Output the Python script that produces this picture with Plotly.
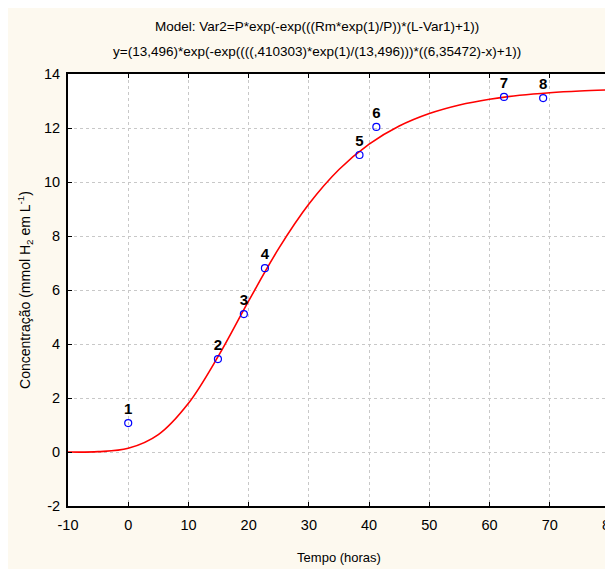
import plotly.graph_objects as go

# ── dados observados ─────────────────────────────────────────
tempo = [0, 14.9, 19.2, 22.7, 38.4, 41.2, 62.4, 68.9]
conc = [1.07, 3.44, 5.11, 6.81, 11.0, 12.04, 13.15, 13.11]
rotulos = ["1", "2", "3", "4", "5", "6", "7", "8"]

# curva ajustada
curva_x = [-10, -5, 0, 5, 10, 15, 20, 25, 30, 35, 40, 45, 50, 55, 60, 65, 70, 75, 80]
curva_y = [0.0, 0.013, 0.136, 0.645, 1.805, 3.567, 5.598, 7.539, 9.181, 10.461,
           11.401, 12.072, 12.536, 12.854, 13.067, 13.211, 13.307, 13.371, 13.413]

x_ticks = [-10, 0, 10, 20, 30, 40, 50, 60, 70, 80]
x_text = ["-10", "0", "10", "20", "30", "40", "50", "60", "70", "80"]
y_ticks = [-2, 0, 2, 4, 6, 8, 10, 12, 14]
y_text = ["-2", "0", "2", "4", "6", "8", "10", "12", "14"]

fonte = "Liberation Sans, Arial, sans-serif"

fig = go.Figure()
fig.add_trace(go.Scatter(
    x=curva_x, y=curva_y, mode="lines", line_shape="spline",
    line=dict(color="#FF0000", width=1.6), hoverinfo="skip",
))
fig.add_trace(go.Scatter(
    x=tempo, y=conc, mode="markers+text", text=rotulos,
    textposition="top center",
    textfont=dict(family=fonte, size=15, color="black", weight="bold"),
    marker=dict(symbol="circle-open", size=7, color="#0000FF", line=dict(width=1.2)),
))

eixo = dict(
    showline=True, linecolor="black", linewidth=2, mirror="ticks",
    ticks="inside", ticklen=4, tickcolor="black",
    showgrid=True, gridcolor="#C8C8C8", griddash="dot", gridwidth=1,
    zeroline=False, tickfont=dict(family=fonte, size=14.5, color="black"),
    automargin=False, ticklabeloverflow="allow",
)

fig.update_layout(
    width=613, height=569,
    paper_bgcolor="#FDF9EF", plot_bgcolor="white",
    margin=dict(l=60, r=11, t=66, b=71),
    showlegend=False,
    font=dict(family=fonte, color="black"),
    xaxis=dict(eixo, range=[-10, 80], tickvals=x_ticks, ticktext=x_text,
               ticklabelstandoff=5,
               title=dict(text="Tempo (horas)", font=dict(size=13), standoff=20)),
    yaxis=dict(eixo, range=[-2, 14], tickvals=y_ticks, ticktext=y_text,
               ticklabelstandoff=3,
               title=dict(text="Concentração (mmol H<sub>2</sub> em L<sup>-1</sup>)",
                          font=dict(size=14), standoff=10)),
    annotations=[
        dict(text="Model: Var2=P*exp(-exp(((Rm*exp(1)/P))*(L-Var1)+1))",
             xref="paper", yref="paper", x=0.459, y=1, yanchor="middle", yshift=48,
             showarrow=False, font=dict(size=13.5)),
        dict(text="y=(13,496)*exp(-exp((((,410303)*exp(1)/(13,496)))*((6,35472)-x)+1))",
             xref="paper", yref="paper", x=0.459, y=1, yanchor="middle", yshift=23,
             showarrow=False, font=dict(size=13.5)),
    ],
)

fig.write_html("out.html")
